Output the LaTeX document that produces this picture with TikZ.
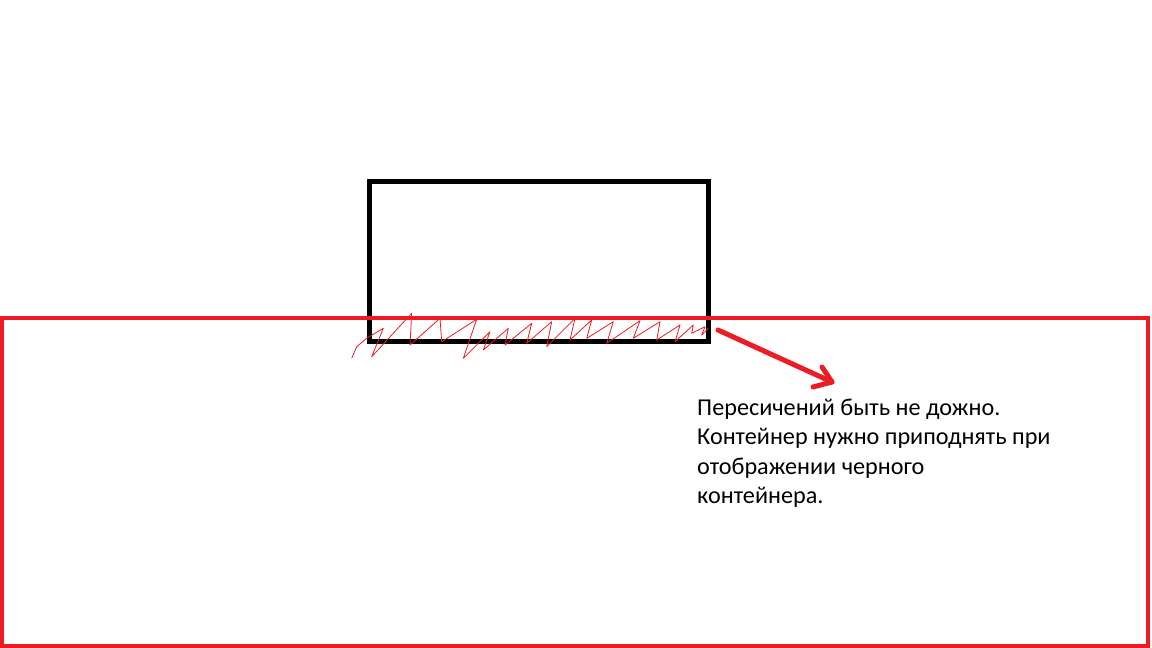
\documentclass[tikz,border=0pt]{standalone}
\usepackage{fontspec}
\setmainfont{Carlito}
\usepackage{xcolor}
\usetikzlibrary{positioning}

\definecolor{paintred}{HTML}{ED1C24}

\begin{document}
\begin{tikzpicture}[x=1pt, y=-1pt,
    blackbox/.style={draw=black, line width=5pt},
    redbox/.style={draw=paintred, line width=4pt},
    scribble/.style={draw=paintred, line width=0.8pt, line join=round},
    pointer/.style={draw=paintred, line width=5pt, line cap=round, line join=round},
    note/.style={font=\fontsize{24.2}{29.5}\selectfont, align=left, inner sep=0pt, anchor=north west}]
    \useasboundingbox (0,0) rectangle (1152,648);

    % Black container
    \draw[blackbox] (369,181) rectangle (708,341);

    % Red container
    \draw[redbox] (2,318) rectangle (1148,646);

    % Overlap scribble
    \draw[scribble] (351.7,358.3) -- (356.7,346.7) -- (366.7,338.3) -- (383.3,328.3)
        -- (371.7,356.7) -- (411.7,313.3) -- (410,345) -- (440,318.3)
        -- (441.7,341.7) -- (476.7,319.3) -- (463.3,358.3) -- (490,331.7)
        -- (483.3,350) -- (508.3,328.3) -- (505,345) -- (531.7,323.3)
        -- (526.7,343.3) -- (551.7,321.7) -- (546.7,346.7) -- (575,318.3)
        -- (570,340) -- (591.7,320) -- (586.7,338.3) -- (613.3,321.7)
        -- (606.7,343.3) -- (640,320.7) -- (633.3,338.3) -- (660,321.7)
        -- (656.7,340) -- (680,325) -- (675,341.7) -- (693.3,325)
        -- (691.7,333.3) -- (705,326.7) -- (701.7,335) -- (708.3,328.3);

    % Note
    \node[note] (msg) at (697,398.5) {Пересичений быть не дожно.\\
        Контейнер нужно приподнять при\\
        отображении черного\\
        контейнера.};

    % Arrow to note
    \coordinate (from) at (718,330);
    \coordinate (tip) at (832,382);
    \draw[pointer] (from) -- (tip);
    \draw[pointer] (822,367) -- (tip) -- (813,387);
\end{tikzpicture}
\end{document}
